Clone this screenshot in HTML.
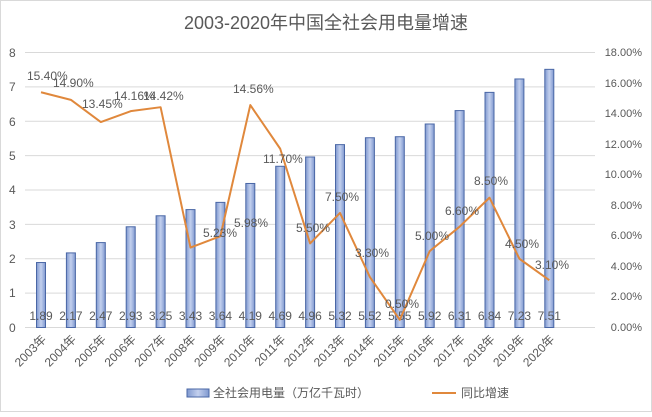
<!DOCTYPE html>
<html><head><meta charset="utf-8"><style>
body{margin:0;background:#fff}
svg text{font-family:"Liberation Sans","Noto Sans CJK SC",sans-serif;fill:#595959}
</style></head><body>
<svg width="652" height="412" viewBox="0 0 652 412" xmlns="http://www.w3.org/2000/svg">
<defs>
<linearGradient id="g" x1="0" x2="1" y1="0" y2="0">
<stop offset="0" stop-color="#7f98cf"/><stop offset="0.5" stop-color="#c3d0ee"/><stop offset="1" stop-color="#7f98cf"/>
</linearGradient>
</defs>
<rect x="0.5" y="0.5" width="651" height="411" fill="#fff" stroke="#d9d9d9"/>
<text x="326" y="29" font-size="18" text-anchor="middle">2003-2020年中国全社会用电量增速</text>
<g stroke="#d9d9d9" stroke-width="1">
<line x1="25" x2="595" y1="52.5" y2="52.5"/><line x1="25" x2="595" y1="86.9" y2="86.9"/>
<line x1="25" x2="595" y1="121.3" y2="121.3"/><line x1="25" x2="595" y1="155.6" y2="155.6"/>
<line x1="25" x2="595" y1="190" y2="190"/><line x1="25" x2="595" y1="224.4" y2="224.4"/>
<line x1="25" x2="595" y1="258.8" y2="258.8"/><line x1="25" x2="595" y1="293.1" y2="293.1"/>
<line x1="25" x2="595" y1="327.5" y2="327.5"/>
</g>
<g font-size="12">
<text x="9" y="57">8</text><text x="9" y="91">7</text><text x="9" y="126">6</text><text x="9" y="160">5</text>
<text x="9" y="194">4</text><text x="9" y="229">3</text><text x="9" y="263">2</text><text x="9" y="297">1</text><text x="9" y="332">0</text>
</g>
<g font-size="11" text-anchor="end">
<text x="642" y="56">18.00%</text><text x="642" y="87">16.00%</text><text x="642" y="117">14.00%</text>
<text x="642" y="148">12.00%</text><text x="642" y="178">10.00%</text><text x="642" y="209">8.00%</text>
<text x="642" y="239">6.00%</text><text x="642" y="270">4.00%</text><text x="642" y="300">2.00%</text><text x="642" y="331">0.00%</text>
</g>
<g id="bars" fill="url(#g)" stroke="#4a67a6" stroke-width="1"></g>
<g id="blabels" font-size="12" text-anchor="middle"></g>
<g id="xl" font-size="12"></g>
<polyline id="ln" fill="none" stroke="#e0883c" stroke-width="2" stroke-linejoin="round"/>
<g id="ll" font-size="12"></g>
<rect x="187" y="389" width="22" height="8" fill="url(#g)" stroke="#4a67a6"/>
<text x="213" y="397" font-size="12">全社会用电量（万亿千瓦时）</text>
<line x1="432" x2="456" y1="393" y2="393" stroke="#e0883c" stroke-width="2"/>
<text x="461" y="397" font-size="12">同比增速</text>
</svg>
<script>
var v=[1.89,2.17,2.47,2.93,3.25,3.43,3.64,4.19,4.69,4.96,5.32,5.52,5.55,5.92,6.31,6.84,7.23,7.51];
var r=[15.40,14.90,13.45,14.16,14.42,5.23,5.98,14.56,11.70,5.50,7.50,3.30,0.50,5.00,6.60,8.50,4.50,3.10];
var lp=[[27,80],[53,87],[82,108],[114,100],[143,100],[203,237],[234,227],[233,93],[263,163],[296,232],[325,201],[355,257],[385,308],[415,240],[445,215],[474,185],[505,248],[535,269]];
var ns="http://www.w3.org/2000/svg";
function el(p,t,a,txt){var e=document.createElementNS(ns,t);for(var k in a)e.setAttribute(k,a[k]);if(txt)e.textContent=txt;document.getElementById(p).appendChild(e);}
var pts=[];
for(var i=0;i<18;i++){
 var x=41+i*29.9, y=327.5-v[i]*34.375;
 el("bars","rect",{x:x-4.5,y:y,width:9,height:327.5-y});
 el("blabels","text",{x:x,y:320},v[i].toFixed(2));
 el("xl","text",{x:x+6,y:340,"text-anchor":"end",transform:"rotate(-45 "+(x+6)+" 340)"},(2003+i)+"年");
 pts.push(x+","+(327.5-r[i]/18*275));
 el("ll","text",{x:lp[i][0],y:lp[i][1]},r[i].toFixed(2)+"%");
}
document.getElementById("ln").setAttribute("points",pts.join(" "));
</script>
</body></html>
